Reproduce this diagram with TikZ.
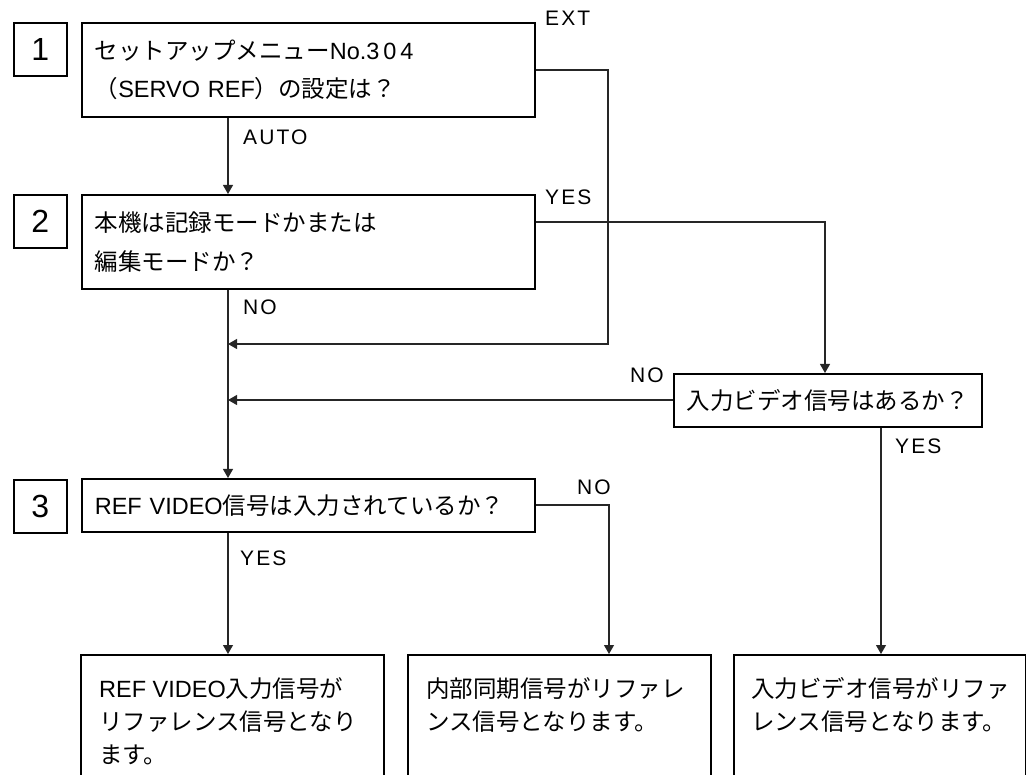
\documentclass[tikz,border=0pt]{standalone}
\usepackage{fontspec}
\setmainfont{Liberation Sans}
\newfontfamily\jpf{Noto Sans CJK JP}
\newfontfamily\lblf[LetterSpace=10]{Liberation Sans}
\usetikzlibrary{arrows.meta}
\newcommand\jt[1]{{\jpf #1}}
\begin{document}
\begin{tikzpicture}[x=1pt,y=-1pt,
  box/.style={draw, line width=1.6pt, inner sep=0pt},
  numbox/.style={box, anchor=north west, minimum width=53pt, minimum height=53pt, font=\fontsize{32}{32}\selectfont},
  qbox/.style={box, anchor=north west, minimum width=453pt, inner xsep=13pt, text width=427pt, align=left},
  btext/.style={anchor=north west, inner sep=0pt, align=left, font=\fontsize{23.5}{33}\selectfont},
  lbl/.style={anchor=west, inner sep=0pt, font=\fontsize{21}{21}\lblf},
  conn/.style={line width=1.1pt, draw=black!85},
  arr/.style={conn, -{Triangle[length=9pt,width=10pt]}}]
\useasboundingbox (0,0) rectangle (1026,775);
\clip (0,0) rectangle (1026,775);
\coordinate (mx) at (228,0);

% number boxes
\node[numbox] (n1) at (13,22) {1};
\node[numbox] (n2) at (13,194) {2};
\node[numbox] (n3) at (13,479) {3};

% question boxes
\node[qbox, minimum height=94pt, font=\fontsize{23.5}{38}\selectfont] (q1) at (81,22)
  {\jt{セットアップメニュー}No.3\kern4pt0\kern4pt4\\\jt{（}SERVO REF\jt{）の設定は？}};
\node[qbox, minimum height=94pt, font=\fontsize{23.5}{39}\selectfont] (q2) at (81,194)
  {\jt{本機は記録モードかまたは}\\\jt{編集モードか？}};
\node[qbox, minimum height=53pt, font=\fontsize{23.5}{30}\selectfont] (q3) at (81,478)
  {REF VIDEO\jt{信号は入力されているか？}};
\node[box, anchor=north west, minimum width=308pt, minimum height=53pt, font=\fontsize{23.5}{30}\selectfont] (qin) at (673,373)
  {\jt{入力ビデオ信号はあるか？}};

% result boxes
\node[box, anchor=north west, minimum width=303pt, minimum height=160pt] (ra) at (80,654) {};
\node[box, anchor=north west, minimum width=303pt, minimum height=160pt] (rb) at (407,654) {};
\node[box, anchor=north west, minimum width=292pt, minimum height=160pt] (rc) at (733,654) {};
\node[btext] (ta) at (99,677) {REF VIDEO\jt{入力信号が}\\\jt{リファレンス信号となり}\\\jt{ます。}};
\node[btext] (tb) at (426,677) {\jt{内部同期信号がリファレ}\\\jt{ンス信号となります。}};
\node[btext] (tc) at (751,677) {\jt{入力ビデオ信号がリファ}\\\jt{レンス信号となります。}};

% labels
\node[lbl] (lext) at (545,18) {EXT};
\node[lbl] (lauto) at (243,137) {AUTO};
\node[lbl] (lyes2) at (545,197) {YES};
\node[lbl] (lno2) at (243,307) {NO};
\node[lbl] (lnoin) at (630,375) {NO};
\node[lbl] (lyesin) at (895,446) {YES};
\node[lbl] (lno3) at (577,487) {NO};
\node[lbl] (lyes3) at (240,558) {YES};

% junction coordinates
\coordinate (ext) at (608,70);
\coordinate (j1) at (228,344);
\coordinate (j2) at (228,400);
\coordinate (yes2) at (825,222);
\coordinate (no3) at (609,505);
\coordinate (yin) at (881,0);

% connectors
\draw[arr] (q1.south -| mx) -- (q2.north -| mx);
\draw[arr] (q2.south -| mx) -- (q3.north -| mx);
\draw[arr] (q1.east |- ext) -- (ext) -- (ext |- j1) -- (j1);
\draw[arr] (q2.east |- yes2) -- (yes2) -- (yes2 |- qin.north);
\draw[arr] (qin.west |- j2) -- (j2);
\draw[arr] (qin.south -| yin) -- (rc.north -| yin);
\draw[arr] (q3.east |- no3) -- (no3) -- (no3 |- rb.north);
\draw[arr] (q3.south -| mx) -- (ra.north -| mx);
\end{tikzpicture}
\end{document}
